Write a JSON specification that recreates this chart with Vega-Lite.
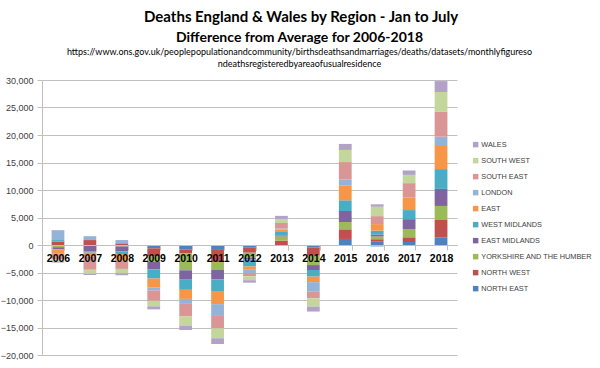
{
  "$schema": "https://vega.github.io/schema/vega-lite/v6.json",
  "background": "white",
  "padding": {"left": 0, "top": 10, "right": 0, "bottom": 0},
  "config": {
    "view": {"stroke": null},
    "font": "Liberation Sans"
  },
  "title": {
    "text": "Deaths England & Wales by Region - Jan to July",
    "font": "Lato",
    "fontSize": 15,
    "fontWeight": "bold",
    "color": "#000000",
    "anchor": "middle",
    "dx": 5,
    "offset": 6
  },
  "vconcat": [
    {
      "width": 415,
      "height": 275,
      "title": {
        "text": "Difference from Average for 2006-2018",
        "subtitle": [
          "https://www.ons.gov.uk/peoplepopulationandcommunity/birthsdeathsandmarriages/deaths/datasets/monthlyfigureso",
          "ndeathsregisteredbyareaofusualresidence"
        ],
        "font": "Lato",
        "fontSize": 14,
        "fontWeight": "bold",
        "color": "#000000",
        "subtitleFont": "Lato",
        "subtitleFontSize": 9,
        "subtitleColor": "#000000",
        "subtitleLineHeight": 12,
        "subtitlePadding": 3,
        "anchor": "middle",
        "frame": "group",
        "dx": 50,
        "offset": 7
      },
      "data": {
        "values": [
          {"year": "2006", "region": "NORTH EAST", "rank": 1, "value": -100},
          {"year": "2006", "region": "NORTH WEST", "rank": 2, "value": 600},
          {"year": "2006", "region": "YORKSHIRE AND THE HUMBER", "rank": 3, "value": -300},
          {"year": "2006", "region": "EAST MIDLANDS", "rank": 4, "value": -400},
          {"year": "2006", "region": "WEST MIDLANDS", "rank": 5, "value": 300},
          {"year": "2006", "region": "EAST", "rank": 6, "value": -800},
          {"year": "2006", "region": "LONDON", "rank": 7, "value": 1800},
          {"year": "2006", "region": "SOUTH EAST", "rank": 8, "value": -1000},
          {"year": "2006", "region": "SOUTH WEST", "rank": 9, "value": -400},
          {"year": "2006", "region": "WALES", "rank": 10, "value": -200},
          {"year": "2007", "region": "NORTH EAST", "rank": 1, "value": -50},
          {"year": "2007", "region": "NORTH WEST", "rank": 2, "value": 900},
          {"year": "2007", "region": "YORKSHIRE AND THE HUMBER", "rank": 3, "value": -100},
          {"year": "2007", "region": "EAST MIDLANDS", "rank": 4, "value": -1050},
          {"year": "2007", "region": "WEST MIDLANDS", "rank": 5, "value": -200},
          {"year": "2007", "region": "EAST", "rank": 6, "value": -700},
          {"year": "2007", "region": "LONDON", "rank": 7, "value": 700},
          {"year": "2007", "region": "SOUTH EAST", "rank": 8, "value": -2400},
          {"year": "2007", "region": "SOUTH WEST", "rank": 9, "value": -750},
          {"year": "2007", "region": "WALES", "rank": 10, "value": -200},
          {"year": "2008", "region": "NORTH EAST", "rank": 1, "value": -100},
          {"year": "2008", "region": "NORTH WEST", "rank": 2, "value": 300},
          {"year": "2008", "region": "YORKSHIRE AND THE HUMBER", "rank": 3, "value": -150},
          {"year": "2008", "region": "EAST MIDLANDS", "rank": 4, "value": -900},
          {"year": "2008", "region": "WEST MIDLANDS", "rank": 5, "value": -500},
          {"year": "2008", "region": "EAST", "rank": 6, "value": -1200},
          {"year": "2008", "region": "LONDON", "rank": 7, "value": 600},
          {"year": "2008", "region": "SOUTH EAST", "rank": 8, "value": -1500},
          {"year": "2008", "region": "SOUTH WEST", "rank": 9, "value": -800},
          {"year": "2008", "region": "WALES", "rank": 10, "value": -350},
          {"year": "2009", "region": "NORTH EAST", "rank": 1, "value": -600},
          {"year": "2009", "region": "NORTH WEST", "rank": 2, "value": -1500},
          {"year": "2009", "region": "YORKSHIRE AND THE HUMBER", "rank": 3, "value": -950},
          {"year": "2009", "region": "EAST MIDLANDS", "rank": 4, "value": -1400},
          {"year": "2009", "region": "WEST MIDLANDS", "rank": 5, "value": -1650},
          {"year": "2009", "region": "EAST", "rank": 6, "value": -1650},
          {"year": "2009", "region": "LONDON", "rank": 7, "value": -500},
          {"year": "2009", "region": "SOUTH EAST", "rank": 8, "value": -1900},
          {"year": "2009", "region": "SOUTH WEST", "rank": 9, "value": -1000},
          {"year": "2009", "region": "WALES", "rank": 10, "value": -550},
          {"year": "2010", "region": "NORTH EAST", "rank": 1, "value": -800},
          {"year": "2010", "region": "NORTH WEST", "rank": 2, "value": -700},
          {"year": "2010", "region": "YORKSHIRE AND THE HUMBER", "rank": 3, "value": -3100},
          {"year": "2010", "region": "EAST MIDLANDS", "rank": 4, "value": -1600},
          {"year": "2010", "region": "WEST MIDLANDS", "rank": 5, "value": -1950},
          {"year": "2010", "region": "EAST", "rank": 6, "value": -1650},
          {"year": "2010", "region": "LONDON", "rank": 7, "value": -900},
          {"year": "2010", "region": "SOUTH EAST", "rank": 8, "value": -2300},
          {"year": "2010", "region": "SOUTH WEST", "rank": 9, "value": -1650},
          {"year": "2010", "region": "WALES", "rank": 10, "value": -800},
          {"year": "2011", "region": "NORTH EAST", "rank": 1, "value": -750},
          {"year": "2011", "region": "NORTH WEST", "rank": 2, "value": -2350},
          {"year": "2011", "region": "YORKSHIRE AND THE HUMBER", "rank": 3, "value": -1450},
          {"year": "2011", "region": "EAST MIDLANDS", "rank": 4, "value": -1700},
          {"year": "2011", "region": "WEST MIDLANDS", "rank": 5, "value": -2250},
          {"year": "2011", "region": "EAST", "rank": 6, "value": -2250},
          {"year": "2011", "region": "LONDON", "rank": 7, "value": -2000},
          {"year": "2011", "region": "SOUTH EAST", "rank": 8, "value": -2400},
          {"year": "2011", "region": "SOUTH WEST", "rank": 9, "value": -1800},
          {"year": "2011", "region": "WALES", "rank": 10, "value": -1050},
          {"year": "2012", "region": "NORTH EAST", "rank": 1, "value": -500},
          {"year": "2012", "region": "NORTH WEST", "rank": 2, "value": -900},
          {"year": "2012", "region": "YORKSHIRE AND THE HUMBER", "rank": 3, "value": -900},
          {"year": "2012", "region": "EAST MIDLANDS", "rank": 4, "value": -300},
          {"year": "2012", "region": "WEST MIDLANDS", "rank": 5, "value": -1300},
          {"year": "2012", "region": "EAST", "rank": 6, "value": -600},
          {"year": "2012", "region": "LONDON", "rank": 7, "value": -600},
          {"year": "2012", "region": "SOUTH EAST", "rank": 8, "value": -600},
          {"year": "2012", "region": "SOUTH WEST", "rank": 9, "value": -700},
          {"year": "2012", "region": "WALES", "rank": 10, "value": -450},
          {"year": "2013", "region": "NORTH EAST", "rank": 1, "value": -150},
          {"year": "2013", "region": "NORTH WEST", "rank": 2, "value": 800},
          {"year": "2013", "region": "YORKSHIRE AND THE HUMBER", "rank": 3, "value": 750},
          {"year": "2013", "region": "EAST MIDLANDS", "rank": 4, "value": 200},
          {"year": "2013", "region": "WEST MIDLANDS", "rank": 5, "value": 750},
          {"year": "2013", "region": "EAST", "rank": 6, "value": 300},
          {"year": "2013", "region": "LONDON", "rank": 7, "value": 200},
          {"year": "2013", "region": "SOUTH EAST", "rank": 8, "value": 1000},
          {"year": "2013", "region": "SOUTH WEST", "rank": 9, "value": 750},
          {"year": "2013", "region": "WALES", "rank": 10, "value": 550},
          {"year": "2014", "region": "NORTH EAST", "rank": 1, "value": -450},
          {"year": "2014", "region": "NORTH WEST", "rank": 2, "value": -1500},
          {"year": "2014", "region": "YORKSHIRE AND THE HUMBER", "rank": 3, "value": -1700},
          {"year": "2014", "region": "EAST MIDLANDS", "rank": 4, "value": -900},
          {"year": "2014", "region": "WEST MIDLANDS", "rank": 5, "value": -1200},
          {"year": "2014", "region": "EAST", "rank": 6, "value": -1000},
          {"year": "2014", "region": "LONDON", "rank": 7, "value": -1750},
          {"year": "2014", "region": "SOUTH EAST", "rank": 8, "value": -1200},
          {"year": "2014", "region": "SOUTH WEST", "rank": 9, "value": -1500},
          {"year": "2014", "region": "WALES", "rank": 10, "value": -900},
          {"year": "2015", "region": "NORTH EAST", "rank": 1, "value": 1100},
          {"year": "2015", "region": "NORTH WEST", "rank": 2, "value": 1750},
          {"year": "2015", "region": "YORKSHIRE AND THE HUMBER", "rank": 3, "value": 1330},
          {"year": "2015", "region": "EAST MIDLANDS", "rank": 4, "value": 2000},
          {"year": "2015", "region": "WEST MIDLANDS", "rank": 5, "value": 1950},
          {"year": "2015", "region": "EAST", "rank": 6, "value": 2650},
          {"year": "2015", "region": "LONDON", "rank": 7, "value": 1150},
          {"year": "2015", "region": "SOUTH EAST", "rank": 8, "value": 3150},
          {"year": "2015", "region": "SOUTH WEST", "rank": 9, "value": 2200},
          {"year": "2015", "region": "WALES", "rank": 10, "value": 1100},
          {"year": "2016", "region": "NORTH EAST", "rank": 1, "value": 600},
          {"year": "2016", "region": "NORTH WEST", "rank": 2, "value": 450},
          {"year": "2016", "region": "YORKSHIRE AND THE HUMBER", "rank": 3, "value": 500},
          {"year": "2016", "region": "EAST MIDLANDS", "rank": 4, "value": 350},
          {"year": "2016", "region": "WEST MIDLANDS", "rank": 5, "value": 700},
          {"year": "2016", "region": "EAST", "rank": 6, "value": 1200},
          {"year": "2016", "region": "LONDON", "rank": 7, "value": -300},
          {"year": "2016", "region": "SOUTH EAST", "rank": 8, "value": 1450},
          {"year": "2016", "region": "SOUTH WEST", "rank": 9, "value": 1700},
          {"year": "2016", "region": "WALES", "rank": 10, "value": 450},
          {"year": "2017", "region": "NORTH EAST", "rank": 1, "value": 550},
          {"year": "2017", "region": "NORTH WEST", "rank": 2, "value": 850},
          {"year": "2017", "region": "YORKSHIRE AND THE HUMBER", "rank": 3, "value": 1500},
          {"year": "2017", "region": "EAST MIDLANDS", "rank": 4, "value": 1800},
          {"year": "2017", "region": "WEST MIDLANDS", "rank": 5, "value": 1650},
          {"year": "2017", "region": "EAST", "rank": 6, "value": 2300},
          {"year": "2017", "region": "LONDON", "rank": 7, "value": -50},
          {"year": "2017", "region": "SOUTH EAST", "rank": 8, "value": 2600},
          {"year": "2017", "region": "SOUTH WEST", "rank": 9, "value": 1500},
          {"year": "2017", "region": "WALES", "rank": 10, "value": 800},
          {"year": "2018", "region": "NORTH EAST", "rank": 1, "value": 1400},
          {"year": "2018", "region": "NORTH WEST", "rank": 2, "value": 3150},
          {"year": "2018", "region": "YORKSHIRE AND THE HUMBER", "rank": 3, "value": 2550},
          {"year": "2018", "region": "EAST MIDLANDS", "rank": 4, "value": 3100},
          {"year": "2018", "region": "WEST MIDLANDS", "rank": 5, "value": 3600},
          {"year": "2018", "region": "EAST", "rank": 6, "value": 4200},
          {"year": "2018", "region": "LONDON", "rank": 7, "value": 1700},
          {"year": "2018", "region": "SOUTH EAST", "rank": 8, "value": 4500},
          {"year": "2018", "region": "SOUTH WEST", "rank": 9, "value": 3600},
          {"year": "2018", "region": "WALES", "rank": 10, "value": 2000}
        ]
      },
      "mark": {"type": "bar"},
      "encoding": {
        "x": {
          "field": "year",
          "type": "ordinal",
          "scale": {"paddingInner": 0.6, "paddingOuter": 0.3},
          "axis": {
            "title": null,
            "offset": -110,
            "zindex": 1,
            "labelAngle": 0,
            "labelFont": "Liberation Sans",
            "labelFontSize": 10.5,
            "labelFontWeight": "bold",
            "labelColor": "#000000",
            "labelPadding": 3,
            "domainColor": "#BFBFBF",
            "tickColor": "#BFBFBF",
            "tickBand": "extent",
            "tickSize": 5
          }
        },
        "y": {
          "field": "value",
          "type": "quantitative",
          "stack": "zero",
          "scale": {"domain": [-20000, 30000], "nice": false},
          "axis": {
            "title": null,
            "values": [-20000, -15000, -10000, -5000, 0, 5000, 10000, 15000, 20000, 25000, 30000],
            "format": ",.0f",
            "labelFont": "Liberation Sans",
            "labelFontSize": 9,
            "labelColor": "#404040",
            "labelPadding": 4,
            "domainColor": "#BFBFBF",
            "tickColor": "#BFBFBF",
            "tickSize": 5,
            "gridColor": "#C0C0C0",
            "grid": true
          }
        },
        "order": {"field": "rank", "type": "quantitative", "sort": "ascending"},
        "color": {
          "field": "region",
          "type": "nominal",
          "sort": ["WALES", "SOUTH WEST", "SOUTH EAST", "LONDON", "EAST", "WEST MIDLANDS", "EAST MIDLANDS", "YORKSHIRE AND THE HUMBER", "NORTH WEST", "NORTH EAST"],
          "scale": {
            "domain": ["WALES", "SOUTH WEST", "SOUTH EAST", "LONDON", "EAST", "WEST MIDLANDS", "EAST MIDLANDS", "YORKSHIRE AND THE HUMBER", "NORTH WEST", "NORTH EAST"],
            "range": ["#B3A2C7", "#C3D69B", "#D99694", "#95B3D7", "#F79646", "#4BACC6", "#8064A2", "#9BBB59", "#C0504D", "#4F81BD"]
          },
          "legend": {
            "title": null,
            "orient": "none",
            "legendX": 430,
            "legendY": 61,
            "padding": 0,
            "symbolType": "square",
            "symbolSize": 30,
            "symbolStrokeWidth": 0,
            "labelFont": "Liberation Sans",
            "labelFontSize": 7.3,
            "labelColor": "#404040",
            "labelOffset": 2,
            "labelLimit": 200,
            "rowPadding": 8
          }
        }
      }
    }
  ]
}
